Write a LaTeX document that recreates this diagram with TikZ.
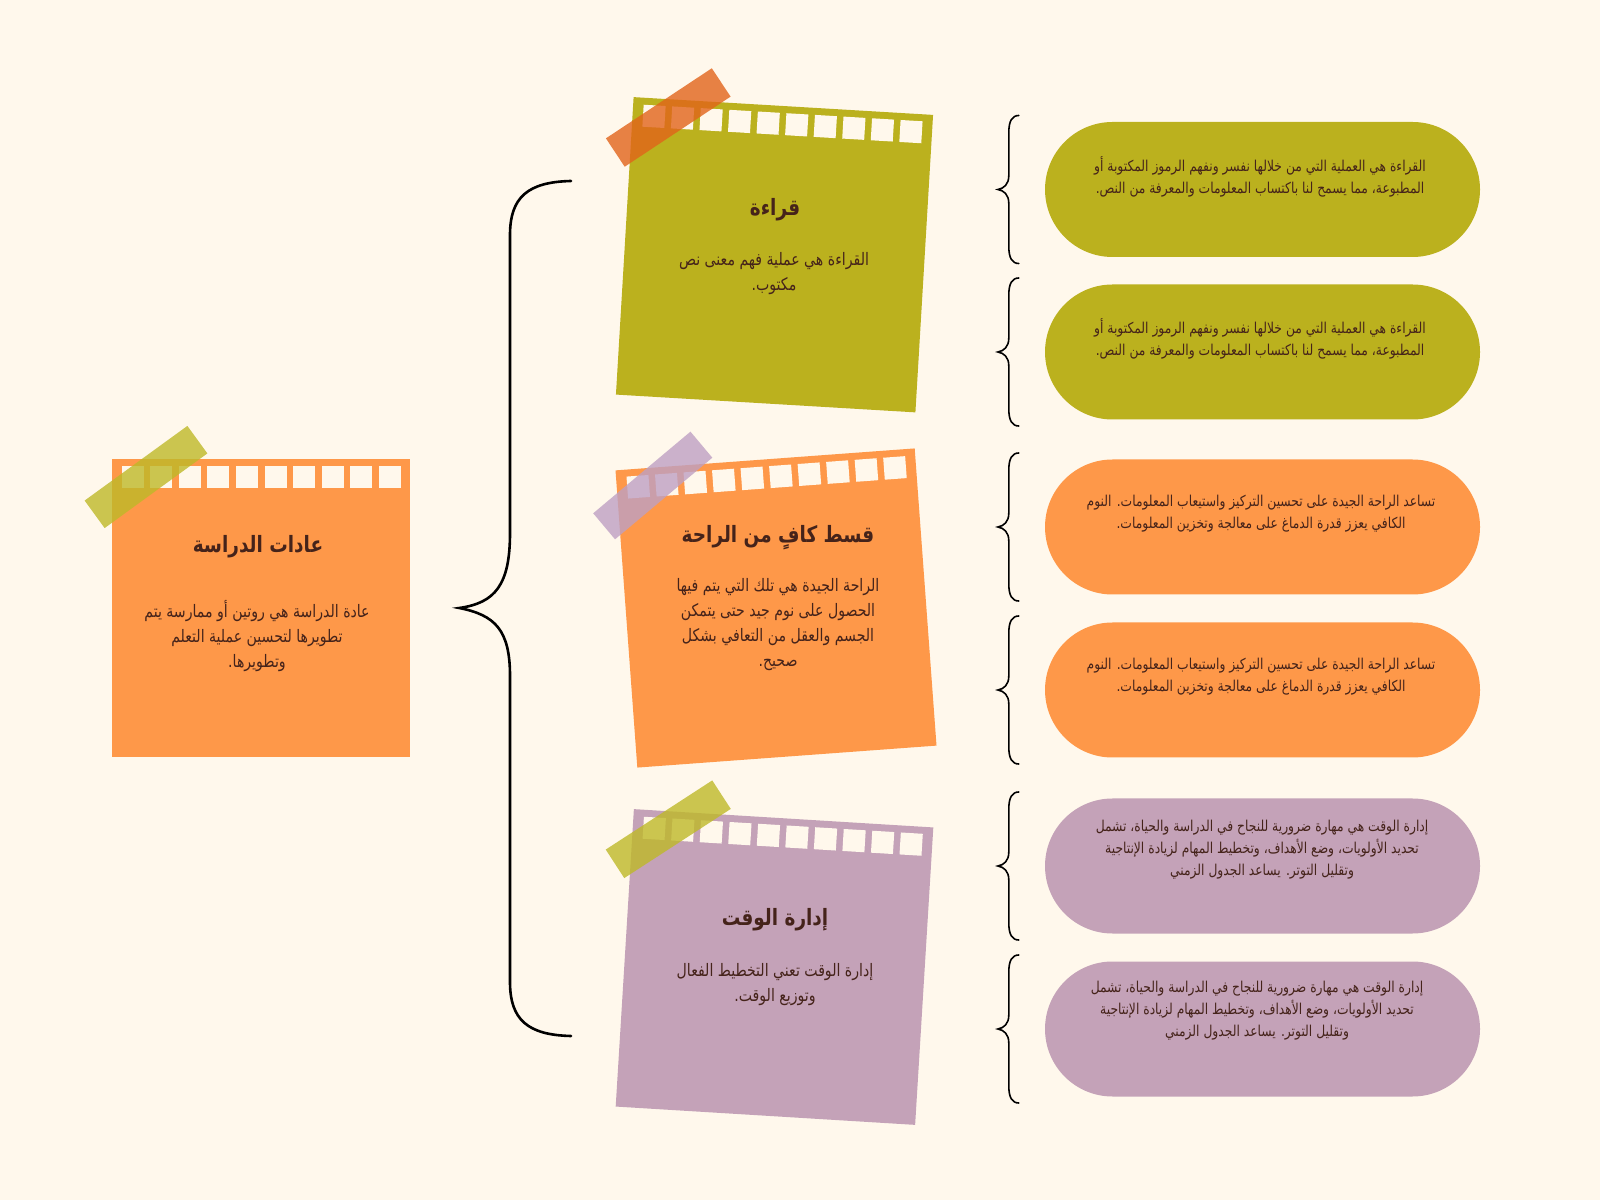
\documentclass[tikz,border=0pt]{standalone}
\usepackage{fontspec}
\newfontfamily\arabicfont[Script=Arabic,FakeStretch=0.82]{DejaVu Sans}
\TeXXeTstate=1
\usetikzlibrary{calc}
\definecolor{bgc}{HTML}{FFF8EC}
\definecolor{cgreen}{HTML}{BBB11E}
\definecolor{corange}{HTML}{FE9849}
\definecolor{clilac}{HTML}{C4A2B8}
\definecolor{textc}{HTML}{45231A}
\definecolor{tapeorange}{HTML}{E1641A}
\definecolor{tapegreen}{HTML}{BEB928}
\definecolor{tapelilac}{HTML}{BEA0C3}
\newcommand\noteholes[2]{%
  \begin{scope}[shift={(#1)}, rotate=#2]
    \foreach \i in {0,...,9} \fill[bgc] ({-139.5+28.6*\i},120) rectangle +(22,22);
  \end{scope}}
\begin{document}
\begin{tikzpicture}[x=1pt,y=1pt,
  note/.style={rectangle, inner sep=0pt, minimum width=300pt, minimum height=298pt},
  tapebox/.style={rectangle, inner sep=0pt, minimum width=127pt, minimum height=34pt, fill opacity=0.8},
  titletxt/.style={text=textc, font=\arabicfont\bfseries\fontsize{22.5}{28}\selectfont, inner sep=0pt},
  bodytxt/.style={text=textc, font=\arabicfont\fontsize{17.2}{25}\selectfont, align=center, inner sep=0pt},
  pill/.style={rectangle, rounded corners=67.5pt, minimum width=435pt, minimum height=135pt, inner sep=0pt},
  pilltxt/.style={text=textc, font=\arabicfont\fontsize{15}{22}\selectfont, align=center, inner sep=0pt},
  bracel/.style={draw=black, line width=2.6pt, line cap=round},
  braces/.style={draw=black, line width=1.6pt, line cap=round}]
\fill[bgc] (0,0) rectangle (1600,1200);
\useasboundingbox (0,0) rectangle (1600,1200);

% main note
\node[note, minimum width=298pt, fill=corange] (habits) at (261,592) {};
\noteholes{habits.center}{0}
\node[tapebox, fill=tapegreen, rotate=36] (tape0) at (146,723) {};
\node[titletxt] (habitsT) at (258,653) {\beginR عادات الدراسة\endR};
\node[bodytxt] (habitsB) at (257,564) {\beginR عادة الدراسة هي روتين أو ممارسة يتم\endR\\\beginR تطويرها لتحسين عملية التعلم\endR\\\beginR وتطويرها.\endR};

% reading note
\node[note, fill=cgreen, rotate=-3.4] (reading) at (774.5,945.25) {};
\noteholes{reading.center}{-3.4}
\node[tapebox, fill=tapeorange, rotate=33.5] (tape1) at (668.25,1082.5) {};
\node[titletxt] (readingT) at (775,990) {\beginR قراءة\endR};
\node[bodytxt] (readingB) at (774,926.5) {\beginR القراءة هي عملية فهم معنى نص\endR\\\beginR مكتوب.\endR};

% rest note
\node[note, fill=corange, rotate=4.2] (rest) at (776,592) {};
\noteholes{rest.center}{4.2}
\node[tapebox, fill=tapelilac, rotate=40] (tape2) at (652.75,714.5) {};
\node[titletxt] (restT) at (778,662) {\beginR قسط كافٍ من الراحة\endR};
\node[bodytxt] (restB) at (778,575) {\beginR الراحة الجيدة هي تلك التي يتم فيها\endR\\\beginR الحصول على نوم جيد حتى يتمكن\endR\\\beginR الجسم والعقل من التعافي بشكل\endR\\\beginR صحيح.\endR};

% time note
\node[note, fill=clilac, rotate=-3.5] (time) at (774.5,233) {};
\noteholes{time.center}{-3.5}
\node[tapebox, fill=tapegreen, rotate=33] (tape3) at (668.25,370.75) {};
\node[titletxt] (timeT) at (775,280) {\beginR إدارة الوقت\endR};
\node[bodytxt] (timeB) at (775,215.5) {\beginR إدارة الوقت تعني التخطيط الفعال\endR\\\beginR وتوزيع الوقت.\endR};

% pills
\node[pill, fill=cgreen] (p1) at (1262.5,1010.5) {};
\node[pill, fill=cgreen] (p2) at (1262.5,848) {};
\node[pill, fill=corange] (p3) at (1262.5,673) {};
\node[pill, fill=corange] (p4) at (1262.5,510) {};
\node[pill, fill=clilac] (p5) at (1262.5,334) {};
\node[pill, fill=clilac] (p6) at (1262.5,171) {};

\node[pilltxt] (p1t) at (1260,1023.5) {\beginR القراءة هي العملية التي من خلالها نفسر ونفهم الرموز المكتوبة أو\endR\\\beginR المطبوعة، مما يسمح لنا باكتساب المعلومات والمعرفة من النص.\endR};
\node[pilltxt] (p2t) at (1260,861) {\beginR القراءة هي العملية التي من خلالها نفسر ونفهم الرموز المكتوبة أو\endR\\\beginR المطبوعة، مما يسمح لنا باكتساب المعلومات والمعرفة من النص.\endR};
\node[pilltxt] (p3t) at (1261,686) {\beginR تساعد الراحة الجيدة على تحسين التركيز واستيعاب المعلومات. النوم\endR\\\beginR الكافي يعزز قدرة الدماغ على معالجة وتخزين المعلومات.\endR};
\node[pilltxt] (p4t) at (1261,523.5) {\beginR تساعد الراحة الجيدة على تحسين التركيز واستيعاب المعلومات. النوم\endR\\\beginR الكافي يعزز قدرة الدماغ على معالجة وتخزين المعلومات.\endR};
\node[pilltxt] (p5t) at (1262,350) {\beginR إدارة الوقت هي مهارة ضرورية للنجاح في الدراسة والحياة، تشمل\endR\\\beginR تحديد الأولويات، وضع الأهداف، وتخطيط المهام لزيادة الإنتاجية\endR\\\beginR وتقليل التوتر. يساعد الجدول الزمني\endR};
\node[pilltxt] (p6t) at (1257,189) {\beginR إدارة الوقت هي مهارة ضرورية للنجاح في الدراسة والحياة، تشمل\endR\\\beginR تحديد الأولويات، وضع الأهداف، وتخطيط المهام لزيادة الإنتاجية\endR\\\beginR وتقليل التوتر. يساعد الجدول الزمني\endR};

% big brace
\coordinate (bt) at (571,1019);
\coordinate (bb) at (571,164);
\coordinate (btip) at ([xshift=49pt]habits.east);
\draw[bracel] (bt) .. controls (528,1018) and (510,1003) .. (510,965) -- (510,667)
  .. controls (510,615) and (495,597) .. (btip)
  .. controls (495,585) and (510,570) .. (510,524) -- (510,218)
  .. controls (510,180) and (528,165) .. (bb);

% small braces
\foreach \p in {p1,p2,p3,p4,p5,p6}{
  \draw[braces] ([shift={(-26,74)}]\p.west)
    .. controls ([shift={(-33,74)}]\p.west) and ([shift={(-36,68)}]\p.west) .. ([shift={(-36,57)}]\p.west)
    -- ([shift={(-36,14)}]\p.west)
    .. controls ([shift={(-36,5)}]\p.west) and ([shift={(-41,1)}]\p.west) .. ([shift={(-47,0)}]\p.west)
    .. controls ([shift={(-41,-1)}]\p.west) and ([shift={(-36,-5)}]\p.west) .. ([shift={(-36,-14)}]\p.west)
    -- ([shift={(-36,-57)}]\p.west)
    .. controls ([shift={(-36,-68)}]\p.west) and ([shift={(-33,-74)}]\p.west) .. ([shift={(-26,-74)}]\p.west);
}
\end{tikzpicture}
\end{document}
